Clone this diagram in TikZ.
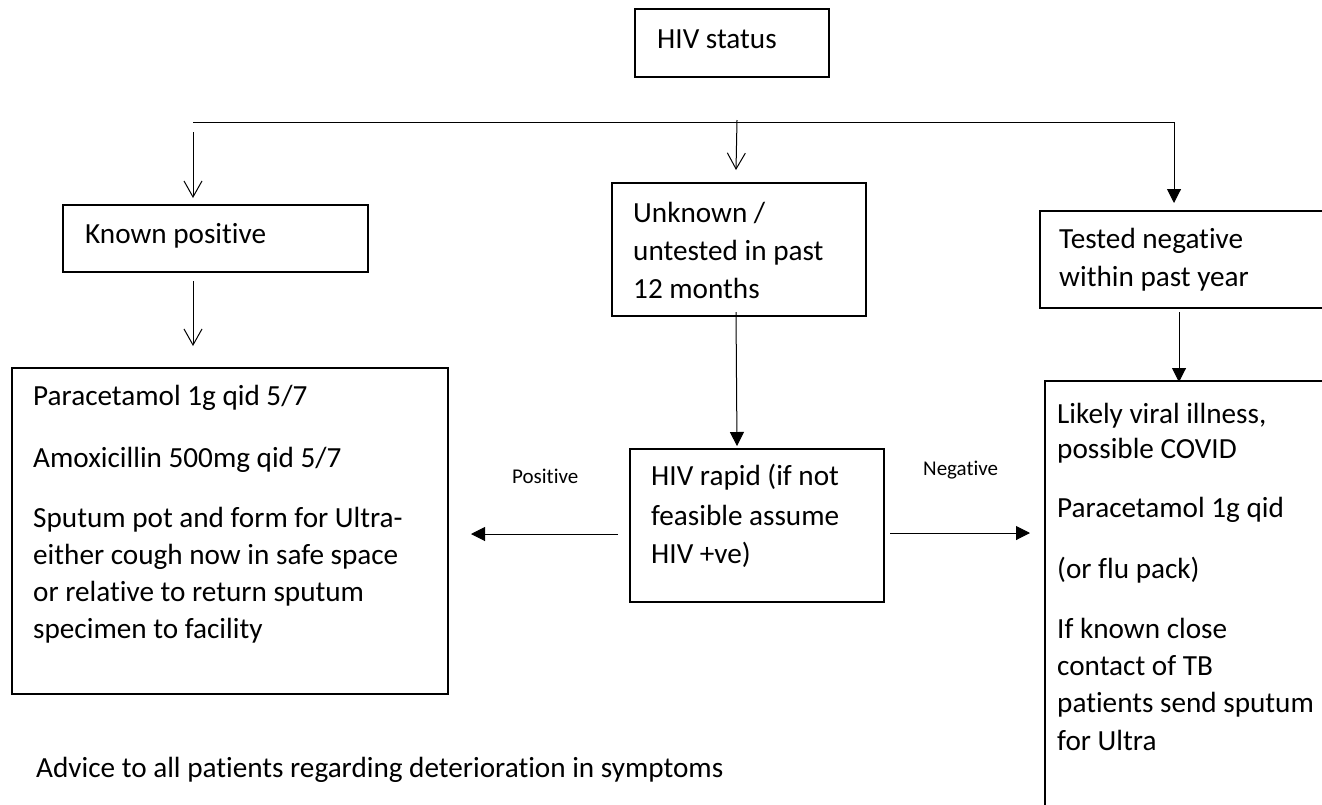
\documentclass[tikz,border=0pt]{standalone}
\usepackage{fontspec}
\setmainfont{Carlito}[Ligatures=NoCommon]
\usetikzlibrary{arrows.meta}
\tikzset{
  box/.style={draw, line width=1.6pt, inner sep=0pt},
  txt/.style={anchor=base west, inner sep=0pt, font=\fontsize{29.2}{37.6}\selectfont},
  lbl/.style={anchor=base west, inner sep=0pt, font=\fontsize{21}{25}\selectfont},
  openarr/.style={line width=1pt, -{Straight Barb[length=16pt,width=18pt,line width=1pt]}},
  fillarr/.style={line width=1pt, -{Triangle[length=14pt,width=14pt]}},
  plain/.style={line width=1pt}
}
\begin{document}
\begin{tikzpicture}[x=1pt,y=-1pt]
\useasboundingbox (0,0) rectangle (1322,804);
\clip (0,0) rectangle (1322,804);
% boxes
\node[box, minimum width=300pt, minimum height=97pt] (tn) at (1190,259.5) {};
\node[box, minimum width=294pt, minimum height=449pt] (rb) at (1192,605.5) {};
\node[box, minimum width=194pt, minimum height=68pt] (status) at (732,43) {};
\node[box, minimum width=305pt, minimum height=67pt] (kp) at (215.5,238.5) {};
\node[box, minimum width=254pt, minimum height=133pt] (unk) at (739,249.5) {};
\node[box, minimum width=436pt, minimum height=326pt] (lb) at (230,531) {};
\node[box, minimum width=254pt, minimum height=153pt] (rapid) at (757,525.5) {};
% texts
\node[txt] (t1) at (657,48) {HIV status};
\node[txt] (t2) at (85,243) {Known positive};
\node[txt] (t3a) at (633,222) {Unknown /};
\node[txt] (t3b) at (633,260) {untested in past};
\node[txt] (t3c) at (633,298) {12 months};
\node[txt] (t4a) at (1059,248) {Tested negative};
\node[txt] (t4b) at (1059,286) {within past year};
\node[txt] (l1) at (33,405) {Paracetamol 1g qid 5/7};
\node[txt] (l2) at (33,467) {Amoxicillin 500mg qid 5/7};
\node[txt] (l3) at (33,527) {Sputum pot and form for Ultra-};
\node[txt] (l4) at (33,564) {either cough now in safe space};
\node[txt] (l5) at (33,601) {or relative to return sputum};
\node[txt] (l6) at (33,638) {specimen to facility};
\node[txt] (r1) at (651,485) {HIV rapid (if not};
\node[txt] (r2) at (651,525) {feasible assume};
\node[txt] (r3) at (651,563) {HIV +ve)};
\node[lbl] (pos) at (512,483) {Positive};
\node[lbl] (neg) at (923,475) {Negative};
\node[txt] (g1) at (1057,423) {Likely viral illness,};
\node[txt] (g2) at (1057,458) {possible COVID};
\node[txt] (g3) at (1057,517) {Paracetamol 1g qid};
\node[txt] (g4) at (1057,578) {(or flu pack)};
\node[txt] (g5) at (1057,638) {If known close};
\node[txt] (g6) at (1057,675) {contact of TB};
\node[txt] (g7) at (1057,712) {patients send sputum};
\node[txt] (g8) at (1057,750) {for Ultra};
\node[txt] (adv) at (36,777) {Advice to all patients regarding deterioration in symptoms};
% connector points
\coordinate (hl) at (193,122);
\coordinate (hr) at (1174,122);
\coordinate (a1s) at (193,132);
\coordinate (a1e) at (193,198);
\coordinate (a2s) at (737,120);
\coordinate (a2e) at (736,170);
\coordinate (a3e) at (1174,203);
\coordinate (a4s) at (193,281);
\coordinate (a4e) at (193,346);
\coordinate (a5s) at (736,312);
\coordinate (a5e) at (737,446);
\coordinate (a6s) at (618,534);
\coordinate (a6e) at (471,534);
\coordinate (a7s) at (890,533);
\coordinate (a7e) at (1030,533);
\coordinate (a8s) at (1179,312);
\coordinate (a8e) at (1179,382);
% connectors
\draw[plain] (hl) -- (hr);
\draw[fillarr] (hr) -- (a3e);
\draw[openarr] (a1s) -- (a1e);
\draw[openarr] (a2s) -- (a2e);
\draw[openarr] (a4s) -- (a4e);
\draw[fillarr] (a5s) -- (a5e);
\draw[fillarr] (a6s) -- (a6e);
\draw[fillarr] (a7s) -- (a7e);
\draw[fillarr] (a8s) -- (a8e);
\end{tikzpicture}
\end{document}
